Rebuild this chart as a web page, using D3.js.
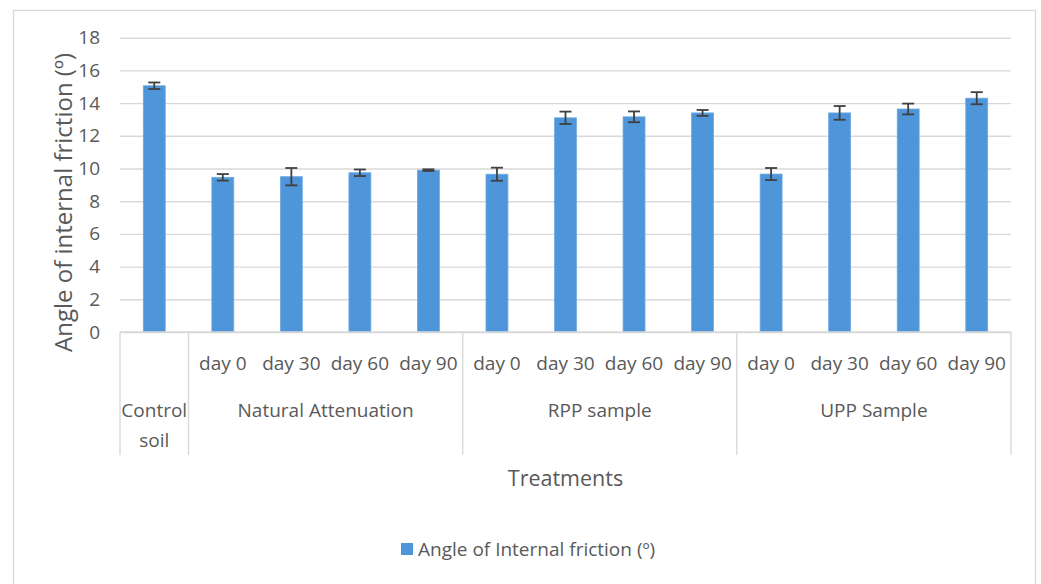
<!DOCTYPE html>
<html>
<head>
<meta charset="utf-8">
<script src="https://cdn.jsdelivr.net/npm/d3@7"></script>
<style>
  html, body { margin: 0; padding: 0; background: #fff; }
  svg { display: block; font-family: "Open Sans", "Noto Sans", sans-serif; }
</style>
</head>
<body>
<svg id="chart" width="1041" height="584"></svg>
<script>
// ---- data ----
const groups = ["Control soil", "Natural Attenuation", "RPP sample", "UPP Sample"];
const groupSizes = [1, 4, 4, 4];
const dayLabels = ["", "day 0", "day 30", "day 60", "day 90", "day 0", "day 30", "day 60", "day 90", "day 0", "day 30", "day 60", "day 90"];
const values = [15.06, 9.46, 9.5, 9.74, 9.9, 9.65, 13.1, 13.16, 13.4, 9.66, 13.4, 13.64, 14.3];
const errors = [0.2, 0.2, 0.53, 0.2, 0.05, 0.4, 0.38, 0.33, 0.18, 0.37, 0.42, 0.33, 0.37];
const yTicks = [0, 2, 4, 6, 8, 10, 12, 14, 16, 18];
const seriesName = "Angle of Internal friction (º)";
const yTitle = "Angle of internal friction (º)";
const xTitle = "Treatments";

// ---- layout ----
const svg = d3.select("#chart");
const W = 1041, H = 584;
const plot = { left: 120, right: 1011, top: 37.7, bottom: 332 };
const axisBottom = 455;
const textColor = "#595959";
const gridColor = "#d9d9d9";
const barColor = "#4e95d9";
const font = "Open Sans, Noto Sans, sans-serif";

svg.append("rect").attr("width", W).attr("height", H).attr("fill", "#fff");
svg.append("rect").attr("x", 13.5).attr("y", 10.5).attr("width", 1022).attr("height", 600)
  .attr("fill", "none").attr("stroke", gridColor).attr("stroke-width", 1.3);

const idx = d3.range(values.length);
const x = d3.scaleBand().domain(idx).range([plot.left, plot.right]).paddingInner(0.68).paddingOuter(0.34);
const y = d3.scaleLinear().domain([0, 18]).range([plot.bottom, plot.top]);

// gridlines + y tick labels
const gAxisY = svg.append("g").attr("transform", `translate(${plot.left},0)`)
  .call(d3.axisLeft(y).tickValues(yTicks).tickSize(-(plot.right - plot.left)).tickFormat(d3.format("d")).tickPadding(20));
gAxisY.select(".domain").remove();
gAxisY.selectAll(".tick line").attr("stroke", gridColor).attr("stroke-width", 1.4);
gAxisY.selectAll(".tick text").attr("fill", textColor).attr("font-size", 19).attr("font-family", font);

// bars
svg.append("g").selectAll("rect").data(idx).join("rect")
  .attr("x", i => x(i)).attr("width", x.bandwidth())
  .attr("y", i => y(values[i])).attr("height", i => y(0) - y(values[i]))
  .attr("fill", barColor).attr("stroke", "#6eaae2").attr("stroke-width", 0.8);

// error bars
const eg = svg.append("g").attr("stroke", "#404040").attr("stroke-width", 1.8).attr("fill", "none");
idx.forEach(i => {
  const cx = x(i) + x.bandwidth() / 2;
  const y1 = y(values[i] + errors[i]), y2 = y(values[i] - errors[i]);
  eg.append("line").attr("x1", cx).attr("x2", cx).attr("y1", y1).attr("y2", y2);
  eg.append("line").attr("x1", cx - 6).attr("x2", cx + 6).attr("y1", y1).attr("y2", y1);
  eg.append("line").attr("x1", cx - 6).attr("x2", cx + 6).attr("y1", y2).attr("y2", y2);
});

// category axis box
const step = x.step();
const ax = svg.append("g").attr("stroke", gridColor).attr("stroke-width", 1.4);
ax.append("line").attr("x1", plot.left).attr("x2", plot.right).attr("y1", plot.bottom).attr("y2", plot.bottom);
let start = 0;
const boundaries = [0];
groupSizes.forEach(s => { start += s; boundaries.push(start); });
boundaries.forEach(b => {
  const bx = plot.left + b * step;
  ax.append("line").attr("x1", bx).attr("x2", bx).attr("y1", plot.bottom).attr("y2", axisBottom);
});

// day labels
svg.append("g").selectAll("text").data(idx.filter(i => dayLabels[i] !== "")).join("text")
  .attr("x", i => x(i) + x.bandwidth() / 2).attr("y", 363)
  .attr("text-anchor", "middle").attr("dominant-baseline", "central")
  .attr("fill", textColor).attr("font-size", 19).text(i => dayLabels[i]);

// group labels
const gl = svg.append("g").attr("fill", textColor).attr("font-size", 19).attr("text-anchor", "middle");
groups.forEach((g, k) => {
  const cx = plot.left + (boundaries[k] + boundaries[k + 1]) / 2 * step;
  if (groupSizes[k] === 1) {
    const words = g.split(" ");
    words.forEach((w, j) => {
      gl.append("text").attr("x", cx).attr("y", 410 + j * 30).attr("dominant-baseline", "central").text(w);
    });
  } else {
    gl.append("text").attr("x", cx).attr("y", 410).attr("dominant-baseline", "central").text(g);
  }
});

// axis titles
svg.append("text").attr("x", (plot.left + plot.right) / 2).attr("y", 477)
  .attr("text-anchor", "middle").attr("dominant-baseline", "central")
  .attr("fill", textColor).attr("font-size", 21.5).text(xTitle);
svg.append("text").attr("transform", `translate(62,${(50 + 355) / 2}) rotate(-90)`)
  .attr("text-anchor", "middle").attr("dominant-baseline", "central")
  .attr("fill", textColor).attr("font-size", 24).text(yTitle);

// legend
const lg = svg.append("g");
lg.append("rect").attr("x", 401).attr("y", 543).attr("width", 12).attr("height", 12).attr("fill", barColor);
lg.append("text").attr("x", 418).attr("y", 549).attr("dominant-baseline", "central")
  .attr("fill", textColor).attr("font-size", 19).text(seriesName);
</script>
</body>
</html>
